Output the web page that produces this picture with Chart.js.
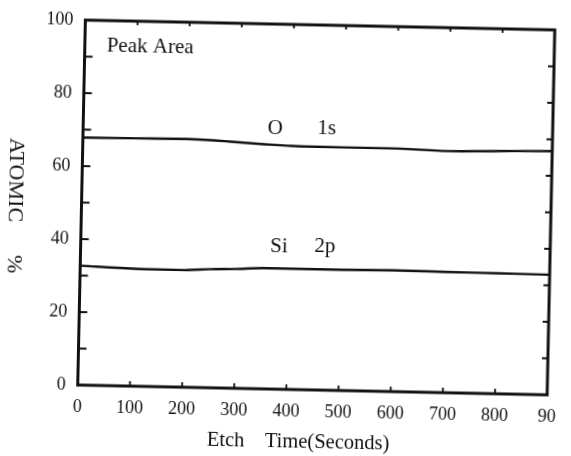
<!DOCTYPE html>
<html lang="en">
<head>
  <meta charset="UTF-8" />
  <title>Peak Area - Atomic %</title>
  <script src="https://cdn.jsdelivr.net/npm/chart.js"></script>
  <style>
    html, body {
      margin: 0;
      padding: 0;
      background: white;
    }
    .wrap {
      width: 571px;
      height: 456px;
      overflow: hidden;
    }
    /* the scanned figure sits slightly tilted */
    #atomic {
      transform-origin: 317.5px 207.6px;
      transform: rotate(1.2deg);
    }
  </style>
</head>
<body>

<div class="wrap">
  <canvas id="atomic" width="571" height="456"></canvas>
</div>

<script>
  // Dati
  const timeSec = [0, 100, 200, 250, 300, 350, 400, 500, 600, 700, 800, 900];
  const o1s = [67.8, 67.9, 68.0, 67.8, 67.4, 67.0, 66.7, 66.6, 66.6, 66.2, 66.5, 66.8];
  const si2p = [32.7, 32.2, 32.1, 32.5, 32.7, 33.1, 33.1, 33.1, 33.2, 33.1, 33.0, 32.9];

  const xTicks = [0, 100, 200, 300, 400, 500, 600, 700, 800, 900];
  const xTickLabels = ['0', '100', '200', '300', '400', '500', '600', '700', '800', '90'];
  const yTicks = [0, 20, 40, 60, 80, 100];

  // testi dentro il grafico
  const noteTexts = ['Peak Area', 'O', '1s', 'Si', '2p'];
  const noteX = [42, 368, 467, 380, 468];
  const noteY = [93, 71.3, 71.6, 39.0, 39.2];

  const xTitle = 'Etch    Time(Seconds)';
  const yTitle = 'ATOMIC      %';

  const serif = "'Liberation Serif', 'DejaVu Serif', serif";
  const ink = '#111';

  // cornice + tacche verso l'interno
  const frameTicks = {
    id: 'frameTicks',
    afterDraw(chart) {
      const { ctx, chartArea: a, scales } = chart;
      ctx.save();
      ctx.strokeStyle = ink;
      ctx.lineWidth = 1.8;
      for (let v = 10; v < 100; v += 10) {
        const y = scales.y.getPixelForValue(v);
        ctx.beginPath();
        ctx.moveTo(a.left, y); ctx.lineTo(a.left + 8, y);
        ctx.moveTo(a.right, y); ctx.lineTo(a.right - 6, y);
        ctx.stroke();
      }
      for (let v = 100; v < 900; v += 100) {
        const x = scales.x.getPixelForValue(v);
        ctx.beginPath();
        ctx.moveTo(x, a.bottom); ctx.lineTo(x, a.bottom - 5);
        ctx.moveTo(x, a.top); ctx.lineTo(x, a.top + 4);
        ctx.stroke();
      }
      ctx.lineWidth = 3;
      ctx.strokeRect(a.left, a.top, a.right - a.left, a.bottom - a.top);
      ctx.restore();
    }
  };

  const notes = {
    id: 'notes',
    afterDatasetsDraw(chart) {
      const { ctx, scales } = chart;
      ctx.save();
      ctx.fillStyle = ink;
      ctx.textBaseline = 'middle';
      ctx.font = '21px ' + serif;
      noteTexts.forEach((t, i) => {
        ctx.textAlign = i === 0 ? 'left' : 'center';
        ctx.fillText(t, scales.x.getPixelForValue(noteX[i]), scales.y.getPixelForValue(noteY[i]));
      });
      // titolo asse x
      ctx.textAlign = 'center';
      ctx.font = '20.5px ' + serif;
      ctx.fillText(xTitle, 303, 443);
      // titolo asse y, letto dall'alto verso il basso
      ctx.translate(15, 212);
      ctx.rotate(Math.PI / 2);
      ctx.font = '22px ' + serif;
      ctx.fillText(yTitle, 0, 0);
      ctx.restore();
    }
  };

  const lineStyle = {
    borderColor: ink,
    borderWidth: 2.4,
    pointRadius: 0,
    fill: false,
    cubicInterpolationMode: 'monotone'
  };

  new Chart(document.getElementById('atomic'), {
    type: 'line',
    data: {
      labels: timeSec,
      datasets: [
        Object.assign({ label: 'O 1s', data: timeSec.map((t, i) => ({ x: t, y: o1s[i] })) }, lineStyle),
        Object.assign({ label: 'Si 2p', data: timeSec.map((t, i) => ({ x: t, y: si2p[i] })) }, lineStyle)
      ]
    },
    options: {
      responsive: false,
      animation: false,
      layout: { padding: { left: 0, top: 25, right: 17.5, bottom: 0 } },
      plugins: {
        legend: { display: false },
        tooltip: { enabled: false }
      },
      scales: {
        x: {
          type: 'linear',
          min: 0,
          max: 900,
          afterBuildTicks: s => { s.ticks = xTicks.map(v => ({ value: v })); },
          afterFit: s => { s.height = 66; },
          grid: { display: false, drawTicks: false },
          border: { display: false },
          ticks: {
            padding: 11,
            color: ink,
            font: { family: serif, size: 18 },
            maxRotation: 0,
            callback: (v, i) => xTickLabels[i]
          }
        },
        y: {
          type: 'linear',
          min: 0,
          max: 100,
          afterBuildTicks: s => { s.ticks = yTicks.map(v => ({ value: v })); },
          afterFit: s => { s.width = 81.5; },
          grid: { display: false, drawTicks: false },
          border: { display: false },
          ticks: {
            padding: 12,
            color: ink,
            font: { family: serif, size: 18 }
          }
        }
      }
    },
    plugins: [frameTicks, notes]
  });
</script>

</body>
</html>
